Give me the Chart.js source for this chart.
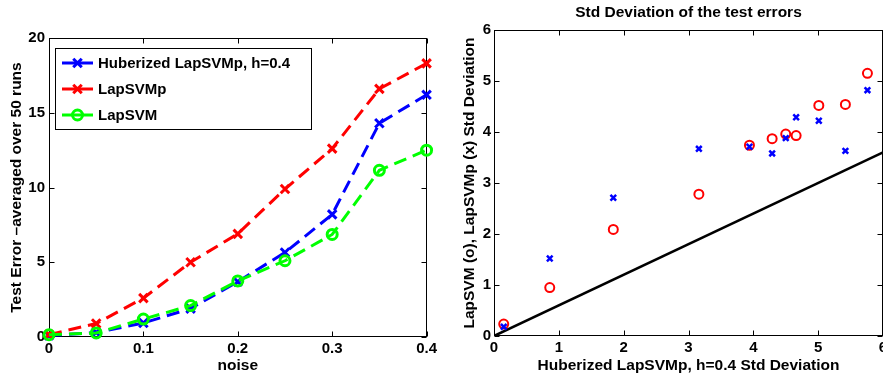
<!DOCTYPE html>
<html><head><meta charset="utf-8">
<script src="https://cdn.jsdelivr.net/npm/chart.js@4.4.0/dist/chart.umd.min.js"></script>
<style>
html,body{margin:0;padding:0;width:883px;height:378px;overflow:hidden;background:#fff;}
#c1{position:absolute;left:0;top:0;}
#c2{position:absolute;left:440px;top:0;}
</style></head><body>
<canvas id="c1" width="440" height="378"></canvas>
<canvas id="c2" width="460" height="378"></canvas>
<script>
// ---- data ----
const noise = [0, 0.05, 0.1, 0.15, 0.2, 0.25, 0.3, 0.35, 0.4];
const huberMean = [0.1, 0.3, 0.94, 1.9, 3.7, 5.65, 8.2, 14.3, 16.2];
const lapsvmpMean = [0.16, 0.9, 2.6, 5.0, 6.9, 9.9, 12.6, 16.6, 18.3];
const lapsvmMean = [0.15, 0.27, 1.2, 2.1, 3.75, 5.1, 6.86, 11.15, 12.5];
const huberStd = [0.15, 0.86, 1.84, 3.16, 3.94, 4.29, 4.50, 4.66, 5.01, 5.42, 5.76];
const lapsvmStd = [0.235, 0.95, 2.09, 2.78, 3.74, 3.87, 3.96, 3.93, 4.52, 4.54, 5.15];
const lapsvmpStd = [0.18, 1.52, 2.71, 3.67, 3.71, 3.58, 3.88, 4.29, 4.22, 3.63, 4.82];
const refLineX = [0, 6];
const refLineY = [0, 3.6];
const leftXTicks = [0, 0.1, 0.2, 0.3, 0.4];
const leftYTicks = [0, 5, 10, 15, 20];
const rightTicks = [0, 1, 2, 3, 4, 5, 6];
const legendLabels = ['Huberized LapSVMp, h=0.4', 'LapSVMp', 'LapSVM'];

const FAM = '"Liberation Sans", Arial, Helvetica, sans-serif';
const tickFont = {family: FAM, size: 15, weight: 'bold'};
const titleFont = {family: FAM, size: 15.5, weight: 'bold'};
const pts = (xs, ys) => xs.map((x, i) => ({x: x, y: ys[i]}));
const fixTicks = arr => s => { s.ticks = arr.map(v => ({value: v})); };

function drawMarker(ctx, style, x, y, r, color, lw) {
  ctx.save();
  ctx.setLineDash([]);
  ctx.strokeStyle = color; ctx.lineWidth = lw;
  ctx.beginPath();
  if (style === 'circle') {
    ctx.arc(x, y, r, 0, Math.PI * 2);
  } else {
    const d = Math.cos(Math.PI / 4) * r;
    ctx.moveTo(x - d, y - d); ctx.lineTo(x + d, y + d);
    ctx.moveTo(x + d, y - d); ctx.lineTo(x - d, y + d);
  }
  ctx.stroke();
  ctx.restore();
}

const boxTicks = {
  id: 'boxTicks',
  beforeDatasetsDraw(chart) {
    const {ctx, chartArea: a, scales} = chart;
    const x = scales.x, y = scales.y;
    ctx.save();
    ctx.strokeStyle = '#000'; ctx.lineWidth = 1;
    const L = Math.round(a.left) + 0.5, R = Math.round(a.right) - 0.5;
    const T = Math.round(a.top) + 0.5, B = Math.round(a.bottom) - 0.5;
    ctx.strokeRect(L, T, R - L, B - T);
    ctx.beginPath();
    x.ticks.forEach(t => {
      const px = Math.round(x.getPixelForValue(t.value)) + 0.5;
      ctx.moveTo(px, B); ctx.lineTo(px, B - 5);
      ctx.moveTo(px, T); ctx.lineTo(px, T + 5);
    });
    y.ticks.forEach(t => {
      const py = Math.round(y.getPixelForValue(t.value)) + 0.5;
      ctx.moveTo(L, py); ctx.lineTo(L + 5, py);
      ctx.moveTo(R, py); ctx.lineTo(R - 5, py);
    });
    ctx.stroke();
    ctx.restore();
  }
};

const boxLegend = {
  id: 'boxLegend',
  afterDatasetsDraw(chart) {
    const {ctx, chartArea: a} = chart;
    const bx = Math.round(a.left) + 6, by = Math.round(a.top) + 10, bw = 256, bh = 81;
    ctx.save();
    ctx.fillStyle = '#fff'; ctx.fillRect(bx, by, bw, bh);
    ctx.strokeStyle = '#000'; ctx.lineWidth = 1;
    ctx.strokeRect(bx + 0.5, by + 0.5, bw, bh);
    chart.data.datasets.forEach((ds, i) => {
      const yy = by + 15 + i * 26;
      ctx.setLineDash([]);
      ctx.strokeStyle = ds.borderColor; ctx.lineWidth = 3;
      ctx.beginPath(); ctx.moveTo(bx + 7, yy); ctx.lineTo(bx + 38, yy); ctx.stroke();
      drawMarker(ctx, ds.pointStyle, bx + 22.5, yy, ds.pointStyle === 'circle' ? 5 : 6, ds.borderColor, 3);
      ctx.fillStyle = '#000';
      ctx.font = 'bold 15px ' + FAM;
      ctx.textBaseline = 'middle'; ctx.textAlign = 'left';
      ctx.fillText(ds.label, bx + 43, yy + 1);
    });
    ctx.restore();
  }
};

const lineDs = (label, ys, color, style, order) => ({
  label: label, data: pts(noise, ys), showLine: true,
  borderColor: color, backgroundColor: 'transparent', borderWidth: 3,
  borderDash: [13, 7], pointStyle: style,
  pointRadius: style === 'circle' ? 5 : 6,
  pointBorderWidth: 3, pointBorderColor: color, pointBackgroundColor: 'transparent',
  clip: false, order: order
});

new Chart(document.getElementById('c1'), {
  type: 'scatter',
  data: {datasets: [
    lineDs(legendLabels[0], huberMean, '#0000ff', 'crossRot', 3),
    lineDs(legendLabels[1], lapsvmpMean, '#ff0000', 'crossRot', 2),
    lineDs(legendLabels[2], lapsvmMean, '#00ff00', 'circle', 1)
  ]},
  options: {
    responsive: false, animation: false, events: [],
    layout: {padding: {left: 0, right: 12, top: 38, bottom: 0}},
    plugins: {legend: {display: false}, tooltip: {enabled: false}},
    scales: {
      x: {
        type: 'linear', min: 0, max: 0.4,
        afterBuildTicks: fixTicks(leftXTicks),
        afterFit: s => { s.height = 41; },
        grid: {display: false, drawTicks: false}, border: {display: false},
        ticks: {color: '#000', font: tickFont, padding: 3, autoSkip: false, maxRotation: 0,
                callback: v => String(v)},
        title: {display: true, text: 'noise', color: '#000', font: titleFont, padding: {top: 0, bottom: 3}}
      },
      y: {
        type: 'linear', min: 0, max: 20,
        afterBuildTicks: fixTicks(leftYTicks),
        afterFit: s => { s.width = 49; },
        grid: {display: false, drawTicks: false}, border: {display: false},
        ticks: {color: '#000', font: tickFont, padding: 4, autoSkip: false},
        title: {display: true, text: 'Test Error \u2013averaged over 50 runs', color: '#000', font: titleFont, padding: {top: 7, bottom: 0}}
      }
    }
  },
  plugins: [boxTicks, boxLegend]
});

new Chart(document.getElementById('c2'), {
  type: 'scatter',
  data: {datasets: [
    {label: 'LapSVMp', data: pts(huberStd, lapsvmpStd), showLine: false,
     pointStyle: 'crossRot', pointRadius: 4, pointBorderWidth: 2.5,
     pointBorderColor: '#0000ff', pointBackgroundColor: 'transparent', borderColor: '#0000ff', clip: false, order: 1},
    {label: 'LapSVM', data: pts(huberStd, lapsvmStd), showLine: false,
     pointStyle: 'circle', pointRadius: 4.5, pointBorderWidth: 2,
     pointBorderColor: '#ff0000', pointBackgroundColor: 'transparent', borderColor: '#ff0000', clip: false, order: 2},
    {label: 'ref', data: pts(refLineX, refLineY), showLine: true,
     borderColor: '#000', borderWidth: 2.5, pointRadius: 0, backgroundColor: 'transparent', order: 3}
  ]},
  options: {
    responsive: false, animation: false, events: [],
    layout: {padding: {left: 0, right: 17, top: 0, bottom: 0}},
    plugins: {legend: {display: false}, tooltip: {enabled: false}},
    scales: {
      x: {
        type: 'linear', min: 0, max: 6, position: 'bottom',
        afterBuildTicks: fixTicks(rightTicks),
        afterFit: s => { s.height = 42; },
        grid: {display: false, drawTicks: false}, border: {display: false},
        ticks: {color: '#000', font: tickFont, padding: 3, autoSkip: false, maxRotation: 0},
        title: {display: true, text: 'Huberized LapSVMp, h=0.4 Std Deviation', color: '#000', font: titleFont, padding: {top: 0, bottom: 3}}
      },
      x2: {
        type: 'linear', min: 0, max: 1, position: 'top',
        afterFit: s => { s.height = 30; },
        grid: {display: false, drawTicks: false}, border: {display: false},
        ticks: {display: false},
        title: {display: true, text: 'Std Deviation of the test errors', color: '#000', font: titleFont, padding: {top: 3, bottom: 0}}
      },
      y: {
        type: 'linear', min: 0, max: 6,
        afterBuildTicks: fixTicks(rightTicks),
        afterFit: s => { s.width = 54; },
        grid: {display: false, drawTicks: false}, border: {display: false},
        ticks: {color: '#000', font: tickFont, padding: 3, autoSkip: false},
        title: {display: true, text: 'LapSVM (o), LapSVMp (x) Std Deviation', color: '#000', font: titleFont, padding: {top: 20, bottom: 0}}
      }
    }
  },
  plugins: [boxTicks]
});
</script>
</body></html>
